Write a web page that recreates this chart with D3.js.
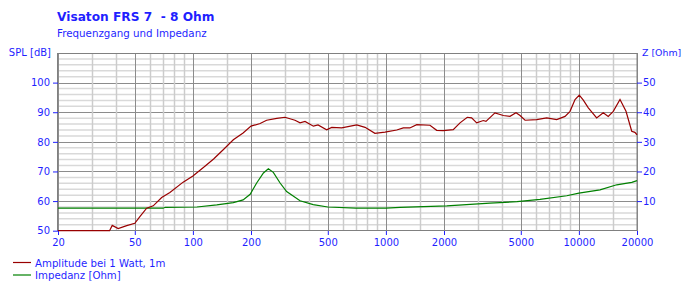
<!DOCTYPE html>
<html>
<head>
<meta charset="utf-8">
<script src="https://cdn.jsdelivr.net/npm/d3@7"></script>
<style>
  body { margin: 0; background: #fff; }
  text { font-family: "DejaVu Sans", sans-serif; fill: #1f1fff; white-space: pre; }
</style>
</head>
<body>
<script>
// SPL curve (Hz, dB)
var splFreq = [20, 37, 38.2, 41, 45.4, 50, 53, 57.6, 62.3, 68.9, 76, 89, 100, 115, 128, 144, 162, 182, 200, 223, 241, 272,
  300, 338, 359, 381, 421, 445, 493, 524, 590, 706, 780, 877, 989, 1138, 1231, 1330, 1445, 1692, 1833, 1983,
  2233, 2421, 2640, 2781, 2953, 3197, 3300, 3673, 4058, 4396, 4723, 4955, 5261, 6043, 6810, 7675, 8474, 8995,
  9550, 10047, 10541, 11190, 12360, 13370, 14190, 15070, 16330, 17540, 18780, 19500, 20000];
var splDb = [50, 50, 51.8, 50.7, 51.7, 52.5, 54.7, 57.6, 58.4, 61.2, 62.9, 66.4, 68.5, 71.7, 74.2, 77.4, 80.7, 83.0, 85.3, 86.2, 87.3, 87.9,
  88.3, 87.3, 86.4, 86.9, 85.3, 85.7, 84.1, 84.9, 84.7, 85.7, 84.9, 82.9, 83.3, 84.0, 84.7, 84.7, 85.8, 85.6, 83.9, 83.8,
  84.1, 86.4, 88.3, 88.1, 86.4, 87.2, 86.9, 89.8, 88.9, 88.6, 89.8, 88.9, 87.3, 87.5, 88.1, 87.5, 88.6, 90.3,
  94.3, 95.8, 94.1, 91.5, 88.1, 89.8, 88.6, 90.3, 94.3, 90.3, 83.6, 83.2, 82.4];

// impedance curve (Hz, Ohm)
var zFreq = [20, 70, 72, 105, 133, 162, 182, 198, 214, 232, 246, 261, 283, 306, 359, 420, 500, 700, 1000, 1183,
  2070, 3460, 4780, 6290, 8650, 10000, 12860, 15700, 18800, 20000];
var zOhm = [7.6, 7.6, 7.9, 8.0, 8.7, 9.5, 10.4, 12.3, 16.1, 19.5, 20.9, 19.7, 16.1, 13.2, 10.1, 8.8, 8.0, 7.6, 7.6, 7.9,
  8.4, 9.3, 9.8, 10.6, 11.8, 12.7, 13.8, 15.5, 16.3, 16.9];

var freqTicks = [20, 50, 100, 200, 500, 1000, 2000, 5000, 10000, 20000];
var freqGrid = [30, 40, 60, 70, 80, 90, 150, 300, 400, 600, 700, 800, 900, 1500, 3000, 4000, 6000, 7000, 8000, 9000, 15000];
var splTicks = [50, 60, 70, 80, 90, 100];
var zTicks = [10, 20, 30, 40, 50];

var W = 684, H = 285;
var svg = d3.select("body").append("svg").attr("width", W).attr("height", H);

var x = d3.scaleLog().domain([20, 20000]).range([58, 637]);
var y = d3.scaleLinear().domain([50, 110]).range([230.7, 53]);
var y2 = d3.scaleLinear().domain([0, 60]).range([230.7, 53]);

// horizontal grid
var minor = d3.range(52, 110, 2).filter(function(d) { return d % 10 != 0; });
svg.append("g").selectAll("line").data(minor).enter().append("line")
  .attr("x1", 58).attr("x2", 637)
  .attr("y1", function(d) { return y(d); }).attr("y2", function(d) { return y(d); })
  .attr("stroke", "#d9d9d9").attr("stroke-width", 1.5);
svg.append("g").selectAll("line").data([60, 70, 80, 90, 100, 110]).enter().append("line")
  .attr("x1", 58).attr("x2", 637)
  .attr("y1", function(d) { return Math.round(y(d)) + 0.5; }).attr("y2", function(d) { return Math.round(y(d)) + 0.5; })
  .attr("stroke", "#8c8c8c");

// vertical grid
svg.append("g").selectAll("line").data(freqGrid).enter().append("line")
  .attr("x1", function(d) { return Math.round(x(d)) + 0.5; }).attr("x2", function(d) { return Math.round(x(d)) + 0.5; })
  .attr("y1", 53).attr("y2", 231)
  .attr("stroke", "#cccccc").attr("stroke-width", 1.5);
svg.append("g").selectAll("line").data(freqTicks).enter().append("line")
  .attr("x1", function(d) { return Math.round(x(d)) + 0.5; }).attr("x2", function(d) { return Math.round(x(d)) + 0.5; })
  .attr("y1", 53).attr("y2", 231)
  .attr("stroke", "#8c8c8c");

// frame
svg.append("rect").attr("x", 57.5).attr("y", 53.5).attr("width", 579.5).attr("height", 177)
  .attr("fill", "none").attr("stroke", "#808080");

// axes
var xAxis = svg.append("g").attr("transform", "translate(0,231)")
  .call(d3.axisBottom(x).tickValues(freqTicks).tickFormat(d3.format("d")).tickSize(4).tickPadding(4));
var yAxis = svg.append("g").attr("transform", "translate(58,0)")
  .call(d3.axisLeft(y).tickValues(splTicks).tickSize(5).tickPadding(3));
var y2Axis = svg.append("g").attr("transform", "translate(637,0)")
  .call(d3.axisRight(y2).tickValues(zTicks).tickSize(5).tickPadding(1));
[xAxis, yAxis, y2Axis].forEach(function(a) {
  a.select(".domain").remove();
  a.selectAll("line").attr("stroke", "#1f1fff");
  a.selectAll("text").attr("font-size", "10px").attr("fill", "#1f1fff");
});

// curves
var spl = splFreq.map(function(f, i) { return [f, splDb[i]]; });
var imp = zFreq.map(function(f, i) { return [f, zOhm[i]]; });
svg.append("path").datum(imp)
  .attr("d", d3.line().x(function(d) { return x(d[0]); }).y(function(d) { return y2(d[1]); }))
  .attr("fill", "none").attr("stroke", "#008000").attr("stroke-width", 1.2);
svg.append("path").datum(spl)
  .attr("d", d3.line().x(function(d) { return x(d[0]); }).y(function(d) { return y(d[1]); }))
  .attr("fill", "none").attr("stroke", "#990000").attr("stroke-width", 1.2);

// titles
svg.append("text").attr("x", 57).attr("y", 21).attr("font-size", "12.2px").attr("font-weight", "bold")
  .text("Visaton FRS 7  - 8 Ohm");
svg.append("text").attr("x", 57).attr("y", 37).attr("font-size", "10.3px").text("Frequenzgang und Impedanz");
svg.append("text").attr("x", 51).attr("y", 56).attr("text-anchor", "end").attr("font-size", "10px").text("SPL [dB]");
svg.append("text").attr("x", 642).attr("y", 56).attr("font-size", "9.4px").text("Z [Ohm]");

// legend
var legend = [["Amplitude bei 1 Watt, 1m", "#990000"], ["Impedanz [Ohm]", "#008000"]];
var lg = svg.append("g").selectAll("g").data(legend).enter().append("g")
  .attr("transform", function(d, i) { return "translate(0," + (262.5 + i * 12.5) + ")"; });
lg.append("line").attr("x1", 13).attr("x2", 31).attr("stroke", function(d) { return d[1]; }).attr("stroke-width", 1.2);
lg.append("text").attr("x", 35).attr("y", 4).attr("font-size", "10.2px").text(function(d) { return d[0]; });
</script>
</body>
</html>
